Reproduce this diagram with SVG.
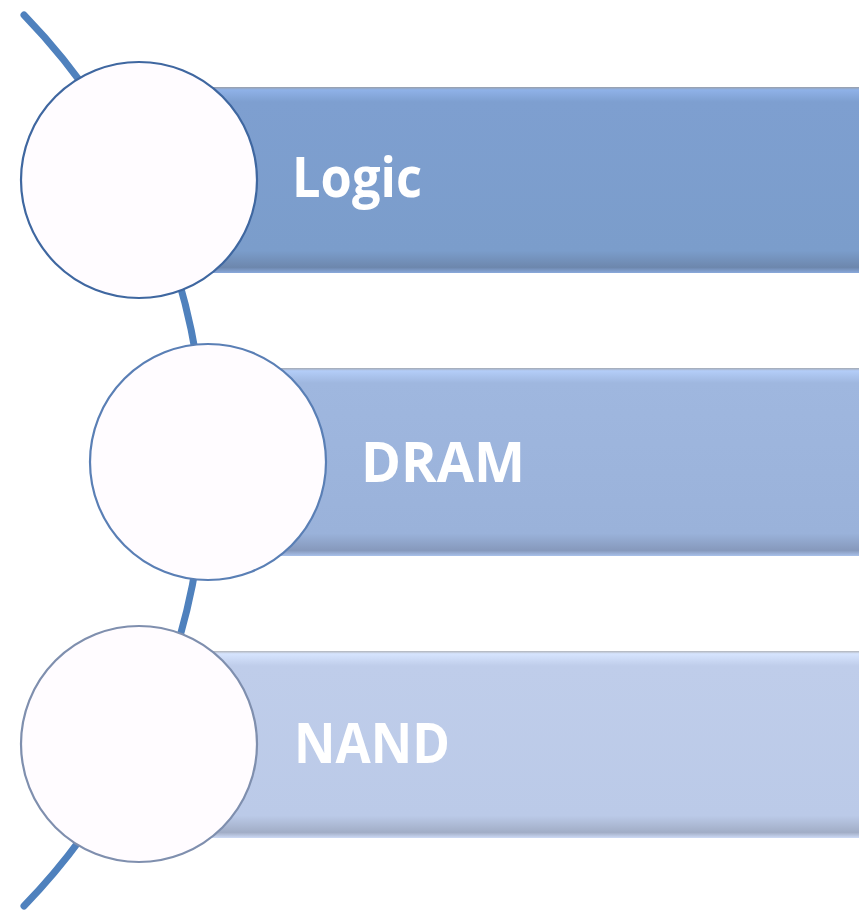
<svg xmlns="http://www.w3.org/2000/svg" width="859" height="911" viewBox="0 0 859 911">
  <defs>
    <linearGradient id="g1" x1="0" y1="0" x2="0" y2="1">
      <stop offset="0" stop-color="#9a9fa8"/>
      <stop offset="0.015" stop-color="#8fb2e8"/>
      <stop offset="0.08" stop-color="#7e9fd0"/>
      <stop offset="0.88" stop-color="#7b9dcb"/>
      <stop offset="0.97" stop-color="#6d87ad"/>
      <stop offset="1" stop-color="#8aa9dc"/>
    </linearGradient>
    <linearGradient id="g2" x1="0" y1="0" x2="0" y2="1">
      <stop offset="0" stop-color="#a4a9b2"/>
      <stop offset="0.015" stop-color="#b3cdf8"/>
      <stop offset="0.08" stop-color="#9fb7df"/>
      <stop offset="0.88" stop-color="#9ab2da"/>
      <stop offset="0.97" stop-color="#8699bc"/>
      <stop offset="1" stop-color="#a9c1ea"/>
    </linearGradient>
    <linearGradient id="g3" x1="0" y1="0" x2="0" y2="1">
      <stop offset="0" stop-color="#b0b3b9"/>
      <stop offset="0.015" stop-color="#d6e4fe"/>
      <stop offset="0.08" stop-color="#bfcdea"/>
      <stop offset="0.88" stop-color="#bbcae8"/>
      <stop offset="0.97" stop-color="#a1adc6"/>
      <stop offset="1" stop-color="#cddaf5"/>
    </linearGradient>
  </defs>
  <style>
    .lbl { font-family: "Open Sans", "Liberation Sans", sans-serif; font-weight: bold; font-size: 55px; fill: #ffffff; }
    .circ { fill: #fffcff; stroke-width: 2.2; }
    .arc { fill: none; stroke: #4f81bd; stroke-width: 7; stroke-linecap: round; }
  </style>
  <g id="connectors">
    <path class="arc" d="M 24 15 A 640 640 0 0 1 24 906"/>
  </g>
  <g id="node-logic">
    <rect x="210" y="87" width="652" height="186" fill="url(#g1)"/>
    <circle class="circ" cx="139" cy="180" r="118" stroke="#3f67a0"/>
    <text class="lbl" x="292" y="197" textLength="130" lengthAdjust="spacingAndGlyphs">Logic</text>
  </g>
  <g id="node-dram">
    <rect x="280" y="368" width="582" height="188" fill="url(#g2)"/>
    <circle class="circ" cx="208" cy="462" r="118" stroke="#5a7fb5"/>
    <text class="lbl" x="361" y="482" textLength="164" lengthAdjust="spacingAndGlyphs">DRAM</text>
  </g>
  <g id="node-nand">
    <rect x="210" y="651" width="652" height="187" fill="url(#g3)"/>
    <circle class="circ" cx="139" cy="744" r="118" stroke="#7f8fae"/>
    <text class="lbl" x="294" y="763" textLength="156" lengthAdjust="spacingAndGlyphs">NAND</text>
  </g>
</svg>
